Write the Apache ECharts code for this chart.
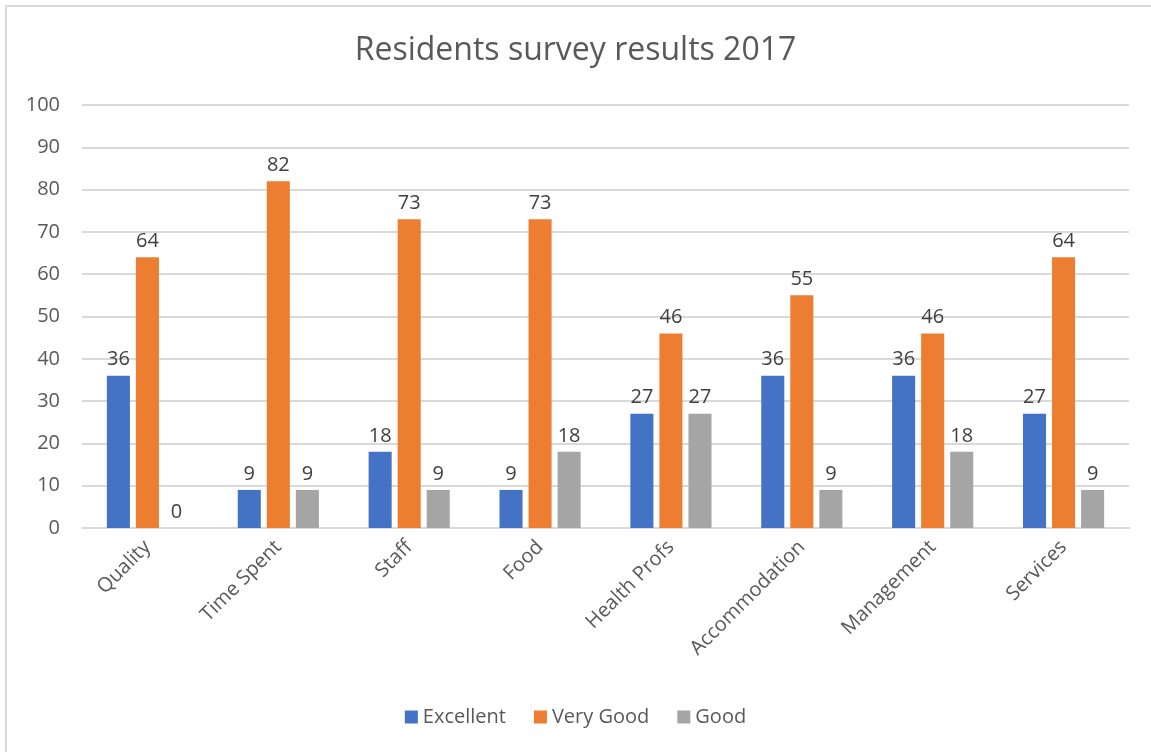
<!DOCTYPE html>
<html>
<head>
<meta charset="utf-8">
<script src="https://cdn.jsdelivr.net/npm/echarts@6/dist/echarts.min.js"></script>
<style>
  html, body { margin: 0; padding: 0; background: #fff; }
  #chart { width: 1151px; height: 752px; position: absolute; left: 0; top: 0; }
  .frame { position: absolute; left: 5px; top: 5px; width: 1160px; height: 760px; border: 2px solid #d9d9d9; pointer-events: none; }
</style>
</head>
<body>
<div id="chart"></div>
<div class="frame"></div>
<script>
// survey data
const categories = ["Quality", "Time Spent", "Staff", "Food", "Health Profs", "Accommodation", "Management", "Services"];
const excellent = [36, 9, 18, 9, 27, 36, 36, 27];
const veryGood = [64, 82, 73, 73, 46, 55, 46, 64];
const good = [0, 9, 9, 18, 27, 9, 18, 9];

const FONT = "'Open Sans', 'Liberation Sans', sans-serif";
const chart = echarts.init(document.getElementById("chart"));

const labelStyle = {
  show: true,
  position: "top",
  distance: 6,
  color: "#404040",
  fontSize: 20,
  fontFamily: FONT,
};

const makeSeries = (name, data, color) => ({
  name: name,
  type: "bar",
  data: data,
  itemStyle: { color: color },
  label: labelStyle,
  barGap: "26%",
  barCategoryGap: "38%",
});

chart.setOption({
  animation: false,
  textStyle: { fontFamily: FONT },
  title: {
    text: "Residents survey results 2017",
    left: "center",
    top: 30,
    textStyle: { color: "#595959", fontSize: 32, fontWeight: "normal", fontFamily: FONT },
  },
  legend: {
    bottom: 20,
    left: "center",
    itemWidth: 13,
    itemHeight: 13,
    itemGap: 28,
    icon: "rect",
    textStyle: { color: "#595959", fontSize: 20, fontFamily: FONT },
    data: ["Excellent", "Very Good", "Good"],
  },
  grid: { left: 82, right: 22, top: 105, bottom: 224 },
  xAxis: {
    type: "category",
    data: categories,
    axisTick: { show: false },
    axisLine: { lineStyle: { color: "#d9d9d9", width: 2 } },
    axisLabel: { rotate: 45, color: "#595959", fontSize: 20, fontFamily: FONT, margin: 16, interval: 0 },
  },
  yAxis: {
    type: "value",
    min: 0,
    max: 100,
    interval: 10,
    axisLine: { show: false },
    axisTick: { show: false },
    axisLabel: { color: "#595959", fontSize: 20, fontFamily: FONT, margin: 22 },
    splitLine: { lineStyle: { color: "#d9d9d9", width: 2 } },
  },
  series: [
    makeSeries("Excellent", excellent, "#4472c4"),
    makeSeries("Very Good", veryGood, "#ed7d31"),
    makeSeries("Good", good, "#a5a5a5"),
  ],
});
</script>
</body>
</html>
